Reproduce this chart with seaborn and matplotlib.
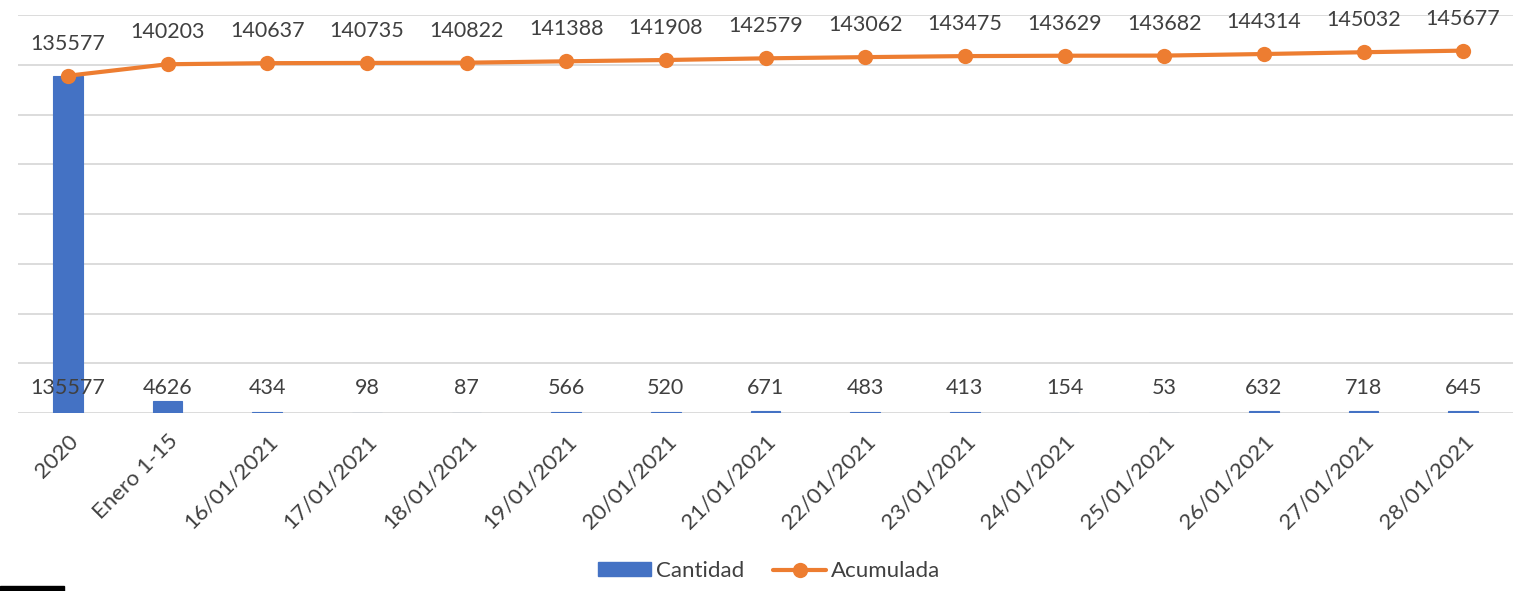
import matplotlib.pyplot as plt
import matplotlib.patches as mpatches
from matplotlib.lines import Line2D
import seaborn as sns
import pandas as pd
import numpy as np

# datos
categorias = ['2020', 'Enero 1-15', '16/01/2021', '17/01/2021', '18/01/2021',
              '19/01/2021', '20/01/2021', '21/01/2021', '22/01/2021', '23/01/2021',
              '24/01/2021', '25/01/2021', '26/01/2021', '27/01/2021', '28/01/2021']
cantidad = [135577, 4626, 434, 98, 87, 566, 520, 671, 483, 413, 154, 53, 632, 718, 645]
acumulada = [135577, 140203, 140637, 140735, 140822, 141388, 141908, 142579,
             143062, 143475, 143629, 143682, 144314, 145032, 145677]

AZUL = '#4472C4'
NARANJA = '#ED7D31'
TEXTO = '#404040'

sns.set_style("white")
plt.rcParams['font.family'] = ['Lato', 'DejaVu Sans']

df = pd.DataFrame({'cat': categorias, 'Cantidad': cantidad, 'Acumulada': acumulada})

fig = plt.figure(figsize=(15.24, 5.91), dpi=100)
ax = fig.add_axes([18 / 1524, 1 - 413 / 591, 1495 / 1524, 398 / 591])

# barras
sns.barplot(data=df, x='cat', y='Cantidad', color=AZUL, width=0.3,
            saturation=1, edgecolor=AZUL, linewidth=0.8, ax=ax, zorder=2)

# linea acumulada
sns.lineplot(x=np.arange(len(df)), y=df['Acumulada'], color=NARANJA, linewidth=3,
             marker='o', markersize=11, markeredgewidth=0, ax=ax, zorder=3)

ax.set_xlim(-0.5, len(df) - 0.5)
ax.set_ylim(0, 160000)
ax.set_yticks(np.arange(0, 160001, 20000))
ax.yaxis.grid(True, color='#D9D9D9', linewidth=1.3)
ax.set_axisbelow(True)
ax.tick_params(axis='y', left=False, labelleft=False)
ax.tick_params(axis='x', length=0, pad=13)
for s in ax.spines.values():
    s.set_visible(False)

ax.set_xticks(np.arange(len(df)))
ax.set_xticklabels(categorias, rotation=45, ha='right', rotation_mode='anchor',
                   fontsize=16, color=TEXTO)
ax.set_xlabel('')
ax.set_ylabel('')

# etiquetas de datos
for i, (c, a) in enumerate(zip(cantidad, acumulada)):
    ax.annotate(str(c), (i, 0), xytext=(0, 18), textcoords='offset points',
                ha='center', va='center', fontsize=15.5, color=TEXTO, zorder=4)
    ax.annotate(str(a), (i, a), xytext=(0, 23), textcoords='offset points',
                ha='center', va='center', fontsize=15.5, color=TEXTO, zorder=4)

# leyenda
handles = [mpatches.Patch(color=AZUL, label='Cantidad'),
           Line2D([0], [0], color=NARANJA, linewidth=3, marker='o', markersize=11,
                  markeredgewidth=0, label='Acumulada')]
fig.legend(handles=handles, loc='center', bbox_to_anchor=(0.5046, 1 - 571 / 591),
           ncol=2, frameon=False, fontsize=16, labelcolor=TEXTO,
           handlelength=2.4, handleheight=0.55, handletextpad=0.2, columnspacing=1.3)

# marca negra en la esquina
fig.patches.append(mpatches.Rectangle((0, 0), 64 / 1524, 5 / 591, transform=fig.transFigure,
                                      color='black', zorder=10))

fig.savefig('out.png', dpi=100)
